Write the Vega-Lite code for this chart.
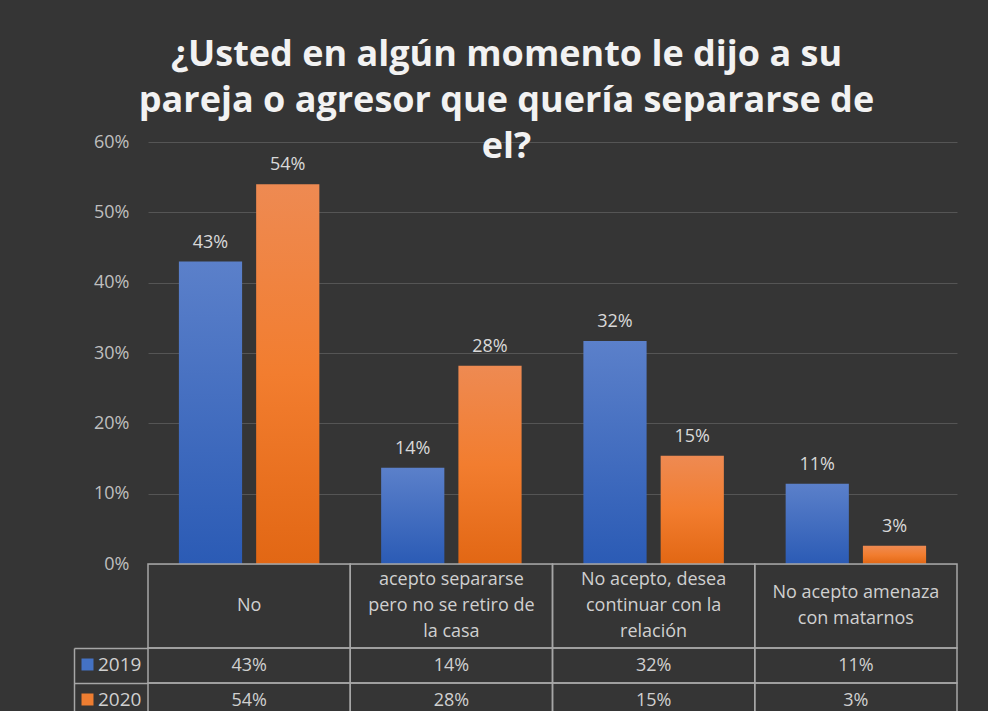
{
  "$schema": "https://vega.github.io/schema/vega-lite/v6.json",
  "background": "#353535",
  "padding": {"left": 73, "top": 37, "right": 32, "bottom": 0},
  "title": {
    "text": ["¿Usted en algún momento le dijo a su", "pareja o agresor que quería separarse de", "el?"],
    "font": "Open Sans",
    "fontSize": 36,
    "fontWeight": "bold",
    "color": "#f2f2f2",
    "lineHeight": 46,
    "anchor": "middle",
    "dx": -9,
    "offset": -33
  },
  "bounds": "flush",
  "resolve": {"legend": {"color": "independent"}, "scale": {"color": "independent"}},
  "datasets": {
    "rows": [
      {"cat": "No", "year": "2019", "value": 0.43},
      {"cat": "No", "year": "2020", "value": 0.54},
      {"cat": "acepto separarse pero no se retiro de la casa", "year": "2019", "value": 0.137},
      {"cat": "acepto separarse pero no se retiro de la casa", "year": "2020", "value": 0.282},
      {"cat": "No acepto, desea continuar con la relación", "year": "2019", "value": 0.317},
      {"cat": "No acepto, desea continuar con la relación", "year": "2020", "value": 0.154},
      {"cat": "No acepto amenaza con matarnos", "year": "2019", "value": 0.114},
      {"cat": "No acepto amenaza con matarnos", "year": "2020", "value": 0.026}
    ],
    "header": [
      {"cat": "No", "lines": "No"},
      {"cat": "acepto separarse pero no se retiro de la casa", "lines": "acepto separarse\npero no se retiro de\nla casa"},
      {"cat": "No acepto, desea continuar con la relación", "lines": "No acepto, desea\ncontinuar con la\nrelación"},
      {"cat": "No acepto amenaza con matarnos", "lines": "No acepto amenaza\ncon matarnos"}
    ]
  },
  "spacing": 0,
  "vconcat": [
    {
      "width": 809,
      "height": 422,
      "data": {"name": "rows"},
      "encoding": {
        "x": {"field": "cat", "type": "nominal", "sort": null, "scale": {"paddingInner": 0, "paddingOuter": 0}, "axis": null},
        "xOffset": {"field": "year", "type": "nominal", "scale": {"paddingInner": 0.182, "paddingOuter": 0.4}},
        "y": {
          "field": "value", "type": "quantitative",
          "scale": {"domain": [0, 0.6], "nice": false},
          "axis": {"values": [0, 0.1, 0.2, 0.3, 0.4, 0.5, 0.6], "format": ".0%", "domain": false, "ticks": false, "tickSize": 0, "labelPadding": 19, "labelFontSize": 18, "labelColor": "#bfbfbf", "labelFont": "Open Sans", "gridColor": "#555555", "gridWidth": 1, "title": null}
        }
      },
      "layer": [
        {
          "transform": [{"filter": "datum.year === '2019'"}],
          "mark": {"type": "bar", "color": {"gradient": "linear", "x1": 0, "y1": 0, "x2": 0, "y2": 1, "stops": [{"offset": 0, "color": "#5b80ca"}, {"offset": 1, "color": "#2b5bb5"}]}}
        },
        {
          "transform": [{"filter": "datum.year === '2020'"}],
          "mark": {"type": "bar", "color": {"gradient": "linear", "x1": 0, "y1": 0, "x2": 0, "y2": 1, "stops": [{"offset": 0, "color": "#ee8a52"}, {"offset": 0.5, "color": "#f27d2f"}, {"offset": 1, "color": "#e26714"}]}}
        },
        {
          "mark": {"type": "text", "baseline": "bottom", "dy": -10, "fontSize": 18, "font": "Open Sans", "color": "#d9d9d9"},
          "encoding": {"text": {"field": "value", "type": "quantitative", "format": ".0%"}}
        }
      ]
    },
    {
      "width": 809,
      "height": 84,
      "data": {"name": "header"},
      "encoding": {
        "x": {"field": "cat", "type": "nominal", "sort": null, "scale": {"paddingInner": 0, "paddingOuter": 0}, "axis": null}
      },
      "layer": [
        {"mark": {"type": "rect", "fill": "transparent", "stroke": "#a6a6a6", "strokeWidth": 1.5}},
        {
          "transform": [{"filter": "split(datum.lines, '\\n').length === 1"}],
          "mark": {"type": "text", "lineBreak": "\n", "lineHeight": 26, "fontSize": 18, "font": "Open Sans", "color": "#d0d0d0", "baseline": "middle"},
          "encoding": {"text": {"field": "lines", "type": "nominal"}}
        },
        {
          "transform": [{"filter": "split(datum.lines, '\\n').length === 2"}],
          "mark": {"type": "text", "lineBreak": "\n", "lineHeight": 26, "fontSize": 18, "font": "Open Sans", "color": "#d0d0d0", "baseline": "middle", "dy": -13},
          "encoding": {"text": {"field": "lines", "type": "nominal"}}
        },
        {
          "transform": [{"filter": "split(datum.lines, '\\n').length === 3"}],
          "mark": {"type": "text", "lineBreak": "\n", "lineHeight": 26, "fontSize": 18, "font": "Open Sans", "color": "#d0d0d0", "baseline": "middle", "dy": -26},
          "encoding": {"text": {"field": "lines", "type": "nominal"}}
        }
      ]
    },
    {
      "width": 809,
      "height": 70,
      "data": {"name": "rows"},
      "encoding": {
        "x": {"field": "cat", "type": "nominal", "sort": null, "scale": {"paddingInner": 0, "paddingOuter": 0}, "axis": null},
        "y": {
          "field": "year", "type": "nominal",
          "scale": {"paddingInner": 0, "paddingOuter": 0},
          "axis": {"labels": false, "offset": 74, "domain": true, "domainColor": "#a6a6a6", "domainWidth": 1.5, "ticks": true, "tickSize": -74, "tickBand": "extent", "tickColor": "#a6a6a6", "tickWidth": 1.5, "title": null, "grid": false}
        }
      },
      "layer": [
        {"mark": {"type": "rect", "fill": "transparent", "stroke": "#a6a6a6", "strokeWidth": 1.5}},
        {
          "mark": {"type": "text", "fontSize": 18, "font": "Open Sans", "color": "#d0d0d0"},
          "encoding": {"text": {"field": "value", "type": "quantitative", "format": ".0%"}}
        },
        {
          "mark": {"type": "square", "opacity": 0},
          "encoding": {
            "color": {
              "field": "year", "type": "nominal",
              "scale": {"range": ["#4472c4", "#ed7d31"]},
              "legend": {"orient": "none", "legendX": -74, "legendY": 3, "title": null, "symbolType": "square", "symbolSize": 144, "symbolOpacity": 1, "symbolStrokeWidth": 0, "labelFontSize": 19, "labelColor": "#d0d0d0", "labelFont": "Open Sans", "rowPadding": 15, "padding": 4, "labelOffset": 1}
            }
          }
        }
      ]
    }
  ],
  "config": {
    "view": {"stroke": null}
  }
}
